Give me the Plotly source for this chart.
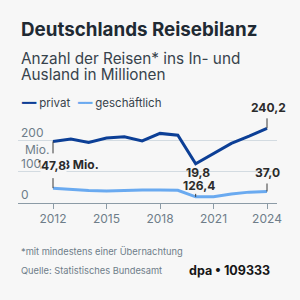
import plotly.graph_objects as go

# ---- data ----
years = list(range(2012, 2025))
privat = [198.3, 206, 195, 209, 213, 200, 224, 218, 126.4, 160, 192, 215, 240.2]
geschaeftlich = [47.8, 43, 40, 39, 41, 42, 42, 41, 19.8, 20, 29, 35, 37.0]
series_names = ["privat", "geschäftlich"]
x_ticks = [2012, 2015, 2018, 2021, 2024]
y_ticks = [0, 100, 200]
y_ticktext = ["0", "100", "200"]

title = "Deutschlands Reisebilanz"
subtitle1 = "Anzahl der Reisen* ins In- und"
subtitle2 = "Ausland in Millionen"
footnote = "*mit mindestens einer Übernachtung"
source = "Quelle: Statistisches Bundesamt"
credit = "dpa • 109333"

# ---- style ----
BG = "#f7f7f7"
DARK = "#0c3f96"
LIGHT = "#6aaaf0"
TXT = "#1f2a33"
GRAY = "#6e7d89"
FONT = "Inter"

# plot geometry (px)
L, R, T, B = 18, 23, 115.7, 96.7
W = H = 300
pw = W - L - R
ph = H - T - B


def px(xp):
    return (xp - L) / pw


def py(yp):
    return (H - B - yp) / ph


fig = go.Figure()
fig.add_trace(go.Scatter(x=years, y=privat, mode="lines", name=series_names[0],
                         line=dict(color=DARK, width=3), hoverinfo="skip"))
fig.add_trace(go.Scatter(x=years, y=geschaeftlich, mode="lines", name=series_names[1],
                         line=dict(color=LIGHT, width=3), hoverinfo="skip"))

ann = []
# titles
ann.append(dict(text="<b>" + title + "</b>", x=px(19), y=py(28.5), font=dict(size=18.8, color=TXT)))
ann.append(dict(text=subtitle1, x=px(19), y=py(57.5), font=dict(size=15.3, color="#37434c")))
ann.append(dict(text=subtitle2, x=px(19), y=py(74), font=dict(size=15.3, color="#37434c")))
# legend (manual)
ann.append(dict(text='<span style="color:%s">━━</span> %s' % (DARK, series_names[0]),
                x=px(19), y=py(103), font=dict(size=11.5, color="#37434c")))
ann.append(dict(text='<span style="color:%s">━━</span> %s' % (LIGHT, series_names[1]),
                x=px(75), y=py(103), font=dict(size=11.5, color="#37434c")))
# footer
ann.append(dict(text=footnote, x=px(19), y=py(252), font=dict(size=9.3, color=GRAY)))
ann.append(dict(text=source, x=px(19), y=py(271), font=dict(size=9.3, color=GRAY)))
ann.append(dict(text="<b>" + credit + "</b>", x=px(187), y=py(271.5), font=dict(size=12.5, color="#151515")))
for a in ann:
    a.update(xref="paper", yref="paper", xanchor="left", yanchor="middle", showarrow=False)

# y unit label
ann.append(dict(text="Mio.", xref="paper", yref="y", x=px(22.5), y=y_ticks[-1], yshift=-8.5,
                xanchor="left", yanchor="middle", showarrow=False, font=dict(size=12, color=GRAY)))

LBL = dict(size=12, color="#2b2b2b", family=FONT)
i_last = len(years) - 1
i20 = years.index(2020)
# value labels
ann.append(dict(text="<b>%s Mio.</b>" % f"{privat[0]:.1f}".replace(".", ","), x=years[0], y=privat[0],
                xanchor="right", yanchor="middle", xshift=47.7, yshift=-23.5, font=LBL))
ann.append(dict(text="<b>%s</b>" % f"{geschaeftlich[0]:.1f}".replace(".", ","), x=years[0], y=geschaeftlich[0],
                xanchor="center", yanchor="middle", xshift=0, yshift=22.6, font=LBL, bgcolor=BG, borderpad=0))
ann.append(dict(text="<b>%s</b>" % f"{privat[i_last]:.1f}".replace(".", ","), x=years[i_last], y=privat[i_last],
                xanchor="center", yanchor="middle", xshift=1.7, yshift=20.6, font=LBL))
ann.append(dict(text="<b>%s</b>" % f"{geschaeftlich[i_last]:.1f}".replace(".", ","), x=years[i_last], y=geschaeftlich[i_last],
                xanchor="center", yanchor="middle", xshift=0.5, yshift=19.3, font=LBL))
ann.append(dict(text="<b>%s</b>" % f"{geschaeftlich[i20]:.1f}".replace(".", ","), x=years[i20], y=geschaeftlich[i20],
                xanchor="center", yanchor="middle", xshift=2.5, yshift=24.4, font=LBL))
ann.append(dict(text="<b>%s</b>" % f"{privat[i20]:.1f}".replace(".", ","), x=years[i20], y=privat[i20],
                xanchor="center", yanchor="middle", xshift=3.6, yshift=-21.3, font=LBL))
for a in ann[-6:]:
    a.update(showarrow=False, xref="x", yref="y")

shapes = []


def leader(xv, yv, p0, p1):
    shapes.append(dict(type="line", xref="x", yref="y", xsizemode="scaled", ysizemode="pixel",
                       yanchor=yv, x0=xv, x1=xv, y0=p0, y1=p1,
                       line=dict(color="#3a3a3a", width=1)))


leader(years[0], privat[0], 0, -12)
leader(years[0], geschaeftlich[0], 0, 10)
leader(years[i_last], privat[i_last], 0, 10)
leader(years[i_last], geschaeftlich[i_last], 0, 8)
leader(years[i20], geschaeftlich[i20], 0, 3)

fig.update_layout(
    width=W, height=H,
    margin=dict(l=L, r=R, t=T, b=B),
    paper_bgcolor=BG, plot_bgcolor=BG,
    showlegend=False,
    font=dict(family=FONT, color=TXT),
    annotations=ann, shapes=shapes,
    xaxis=dict(range=[2012 - 35 / 17.833, 2024 + 10 / 17.833], tickvals=x_ticks,
               ticks="outside", ticklen=5, tickcolor="#8c9ba6", showgrid=False,
               showline=True, linecolor="#8c9ba6", linewidth=1, zeroline=False,
               tickfont=dict(size=12, color=GRAY), fixedrange=True),
    yaxis=dict(range=[0, 280], tickvals=y_ticks, ticktext=y_ticktext,
               ticklabelposition="inside", ticklabelshift=-8, ticklabelstandoff=0,
               showgrid=True, gridcolor="#d3dbe1", gridwidth=1, zeroline=False,
               showline=False, ticks="", tickfont=dict(size=12, color=GRAY), fixedrange=True),
)

fig.write_html("out.html", config={"displayModeBar": False})
